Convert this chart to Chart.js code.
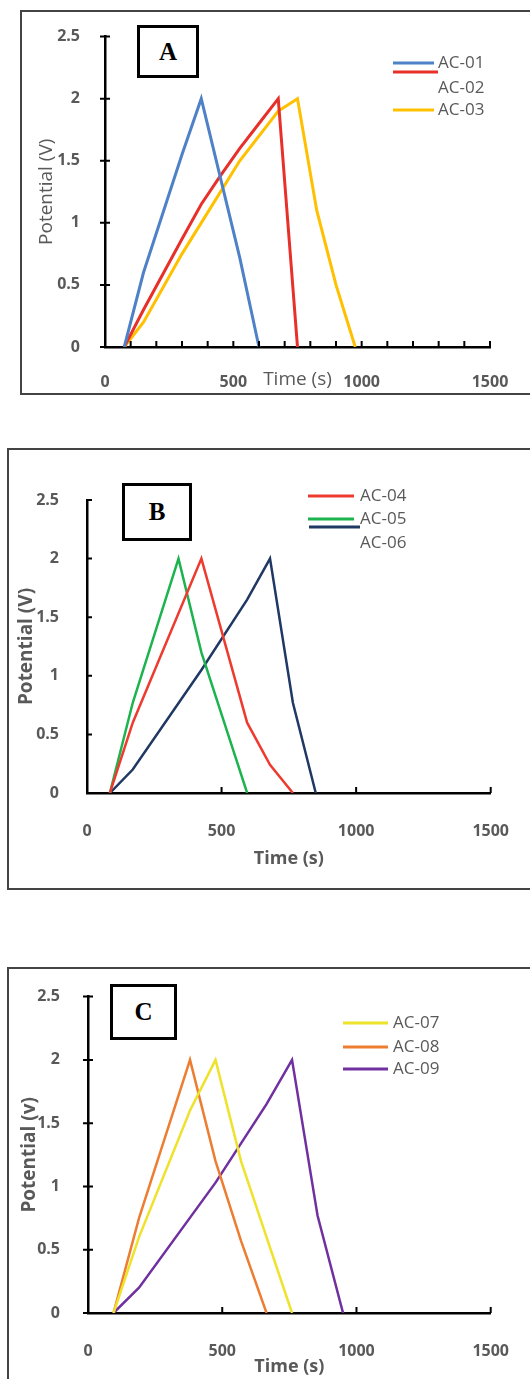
<!DOCTYPE html>
<html>
<head>
<meta charset="utf-8">
<script src="https://cdn.jsdelivr.net/npm/chart.js@4.4.1/dist/chart.umd.min.js"></script>
<style>
  body { margin: 0; background: #fff; width: 530px; height: 1379px; overflow: hidden; position: relative; }
  .panel { position: absolute; border: 2px solid #444; box-sizing: border-box; }
  .wrap { position: absolute; }
  .tag { position: absolute; border: 3px solid #000; box-sizing: border-box; background: #fff;
         font: bold 25px "Liberation Serif", serif; display: flex; align-items: center; justify-content: center; z-index: 2; }
</style>
</head>
<body>
<div class="panel" style="left:20px;top:10px;width:530px;height:385px"></div>
<div class="panel" style="left:7px;top:448px;width:540px;height:442px"></div>
<div class="panel" style="left:7px;top:967px;width:540px;height:430px"></div>

<div class="wrap" style="left:20px;top:10px;width:510px;height:384px"><canvas id="chartA"></canvas></div>
<div class="wrap" style="left:7px;top:448px;width:523px;height:441px"><canvas id="chartB"></canvas></div>
<div class="wrap" style="left:7px;top:967px;width:523px;height:412px"><canvas id="chartC"></canvas></div>

<div class="tag" style="left:137px;top:25px;width:62px;height:53px">A</div>
<div class="tag" style="left:122px;top:483px;width:70px;height:58px">B</div>
<div class="tag" style="left:110px;top:984px;width:67px;height:56px">C</div>

<script>
// Panel A
const timeAC01 = [75, 150, 300, 375, 525, 600];
const voltAC01 = [0, 0.6, 1.55, 2, 0.72, 0];
const timeAC02 = [75, 150, 300, 375, 450, 525, 600, 675, 750];
const voltAC02 = [0, 0.3, 0.87, 1.15, 1.38, 1.6, 1.8, 2, 0];
const timeAC03 = [75, 150, 300, 375, 525, 675, 750, 825, 900, 975];
const voltAC03 = [0, 0.2, 0.75, 1.0, 1.5, 1.9, 2, 1.1, 0.5, 0];

// Panel B
const timeAC04 = [85, 170, 425, 595, 680, 765];
const voltAC04 = [0, 0.6, 2, 0.6, 0.24, 0];
const timeAC05 = [85, 170, 340, 425, 510, 595];
const voltAC05 = [0, 0.77, 2, 1.2, 0.6, 0];
const timeAC06 = [85, 170, 425, 595, 680, 765, 850];
const voltAC06 = [0, 0.2, 1.05, 1.65, 2, 0.77, 0];

// Panel C
const timeAC07 = [95, 190, 380, 475, 570, 665, 760];
const voltAC07 = [0, 0.6, 1.6, 2, 1.2, 0.6, 0];
const timeAC08 = [95, 190, 380, 475, 570, 665];
const voltAC08 = [0, 0.75, 2, 1.2, 0.57, 0];
const timeAC09 = [95, 190, 475, 665, 760, 855, 950];
const voltAC09 = [0, 0.2, 1.03, 1.65, 2, 0.77, 0];

const timeTicks = [0, 500, 1000, 1500];
const voltTicks = [0, 0.5, 1, 1.5, 2, 2.5];

Chart.defaults.font.family = "'Open Sans', sans-serif";
Chart.defaults.color = '#595959';

function pts(t, v) {
    return t.map((x, i) => ({ x: x, y: v[i] }));
}

function series(label, t, v, color, w) {
    return {
        label: label,
        data: pts(t, v),
        borderColor: color,
        backgroundColor: color,
        borderWidth: w,
        pointRadius: 0,
        tension: 0,
        fill: false
    };
}

// tick marks drawn on the axes (inside on x, across on y)
const tickMarks = {
    id: 'tickMarks',
    afterDraw(chart, args, opts) {
        const ctx = chart.ctx;
        const xs = chart.scales.x, ys = chart.scales.y;
        ctx.save();
        ctx.strokeStyle = '#000';
        ctx.lineWidth = 2;
        ctx.beginPath();
        for (let v = xs.min; v <= xs.max; v += opts.xStep) {
            const px = xs.getPixelForValue(v);
            ctx.moveTo(px, ys.bottom);
            ctx.lineTo(px, ys.bottom - opts.xLen);
        }
        voltTicks.forEach(v => {
            const py = ys.getPixelForValue(v);
            ctx.moveTo(xs.left - opts.yIn[0], py);
            ctx.lineTo(xs.left + opts.yIn[1], py);
        });
        ctx.stroke();
        ctx.restore();
    }
};

// hand placed legend like the original (lines and labels not quite aligned)
const looseLegend = {
    id: 'looseLegend',
    afterDraw(chart, args, opts) {
        const ctx = chart.ctx;
        ctx.save();
        opts.lines.forEach((l, i) => {
            ctx.strokeStyle = chart.data.datasets[i].borderColor;
            ctx.lineWidth = opts.lineWidth;
            ctx.beginPath();
            ctx.moveTo(l[0], l[2]);
            ctx.lineTo(l[1], l[2]);
            ctx.stroke();
        });
        ctx.fillStyle = '#595959';
        ctx.font = opts.font;
        ctx.textBaseline = 'middle';
        opts.labels.forEach((p, i) => {
            ctx.fillText(chart.data.datasets[i].label, p[0], p[1]);
        });
        ctx.restore();
    }
};

function makeChart(id, datasets, cfg) {
    return new Chart(document.getElementById(id), {
        type: 'line',
        data: { datasets: datasets },
        plugins: [tickMarks, looseLegend],
        options: {
            responsive: true,
            maintainAspectRatio: false,
            animation: false,
            layout: { padding: { top: cfg.top, right: cfg.right, left: 0, bottom: 0 } },
            plugins: {
                legend: { display: false },
                tooltip: { enabled: false },
                tickMarks: { xStep: cfg.xStep, xLen: 6, yIn: cfg.yIn },
                looseLegend: cfg.legend
            },
            scales: {
                x: {
                    type: 'linear',
                    min: 0, max: 1500,
                    afterFit: s => { s.height = cfg.xHeight; },
                    afterBuildTicks: s => { s.ticks = timeTicks.map(v => ({ value: v })); },
                    grid: { display: false },
                    border: { display: true, color: '#000', width: 2.5 },
                    ticks: {
                        padding: cfg.xPad, font: { size: 16, weight: 'bold' }, color: '#595959', maxRotation: 0,
                        callback: v => String(v)
                    },
                    title: {
                        display: true, text: 'Time (s)', color: '#595959',
                        font: { size: cfg.xTitleSize, weight: cfg.titleWeight },
                        padding: { top: 0, bottom: cfg.xTitlePad }
                    }
                },
                y: {
                    min: 0, max: 2.5,
                    afterFit: s => { s.width = cfg.yWidth; },
                    afterBuildTicks: s => { s.ticks = voltTicks.map(v => ({ value: v })); },
                    grid: { display: false },
                    border: { display: true, color: '#000', width: 2.5 },
                    ticks: {
                        padding: cfg.yPad, font: { size: 16, weight: 'bold' }, color: '#595959',
                        callback: v => String(v)
                    },
                    title: {
                        display: true, text: cfg.yTitle, color: '#595959',
                        font: { size: cfg.yTitleSize, weight: cfg.titleWeight },
                        padding: { top: cfg.yTitlePad, bottom: 0 }
                    }
                }
            }
        }
    });
}

makeChart('chartA', [
    series('AC-01', timeAC01, voltAC01, '#4F81C7', 3),
    series('AC-02', timeAC02, voltAC02, '#E8302A', 3),
    series('AC-03', timeAC03, voltAC03, '#FFC000', 3)
], {
    top: 20, right: 40, xHeight: 47, yWidth: 85,
    xPad: 18, yPad: 17, xTitlePad: 3, yTitlePad: 15,
    xStep: 100, yIn: [5, 5], titleWeight: 'normal', yTitle: 'Potential (V)', yTitleSize: 19, xTitleSize: 19,
    legend: {
        lineWidth: 3, font: '17px "Open Sans"',
        lines: [[373, 414, 53], [373, 418, 62], [373, 414, 100]],
        labels: [[418, 53], [418, 78], [418, 100]]
    }
});

makeChart('chartB', [
    series('AC-04', timeAC04, voltAC04, '#EE3B2F', 2.5),
    series('AC-05', timeAC05, voltAC05, '#1DB34F', 2.5),
    series('AC-06', timeAC06, voltAC06, '#203864', 2.5)
], {
    top: 52, right: 37, xHeight: 96, yWidth: 80,
    xPad: 21, yPad: 20, xTitlePad: 19, yTitlePad: 8,
    xStep: 500, yIn: [0, 5], titleWeight: 'bold', yTitle: 'Potential (V)', yTitleSize: 19, xTitleSize: 18,
    legend: {
        lineWidth: 3, font: '17px "Open Sans"',
        lines: [[301, 347, 48], [301, 347, 71], [302, 353, 79]],
        labels: [[353, 48], [353, 71], [353, 95]]
    }
});

makeChart('chartC', [
    series('AC-07', timeAC07, voltAC07, '#EEE22A', 2.5),
    series('AC-08', timeAC08, voltAC08, '#ED7D31', 2.5),
    series('AC-09', timeAC09, voltAC09, '#7030A0', 2.5)
], {
    top: 21, right: 34, xHeight: 66, yWidth: 81,
    xPad: 21, yPad: 20, xTitlePad: 1, yTitlePad: 11,
    xStep: 500, yIn: [5, 5], titleWeight: 'bold', yTitle: 'Potential (v)', yTitleSize: 19, xTitleSize: 18,
    legend: {
        lineWidth: 3, font: '17px "Open Sans"',
        lines: [[336, 381, 56], [336, 381, 80], [336, 381, 102]],
        labels: [[386, 56], [386, 80], [386, 102]]
    }
});
</script>
</body>
</html>
